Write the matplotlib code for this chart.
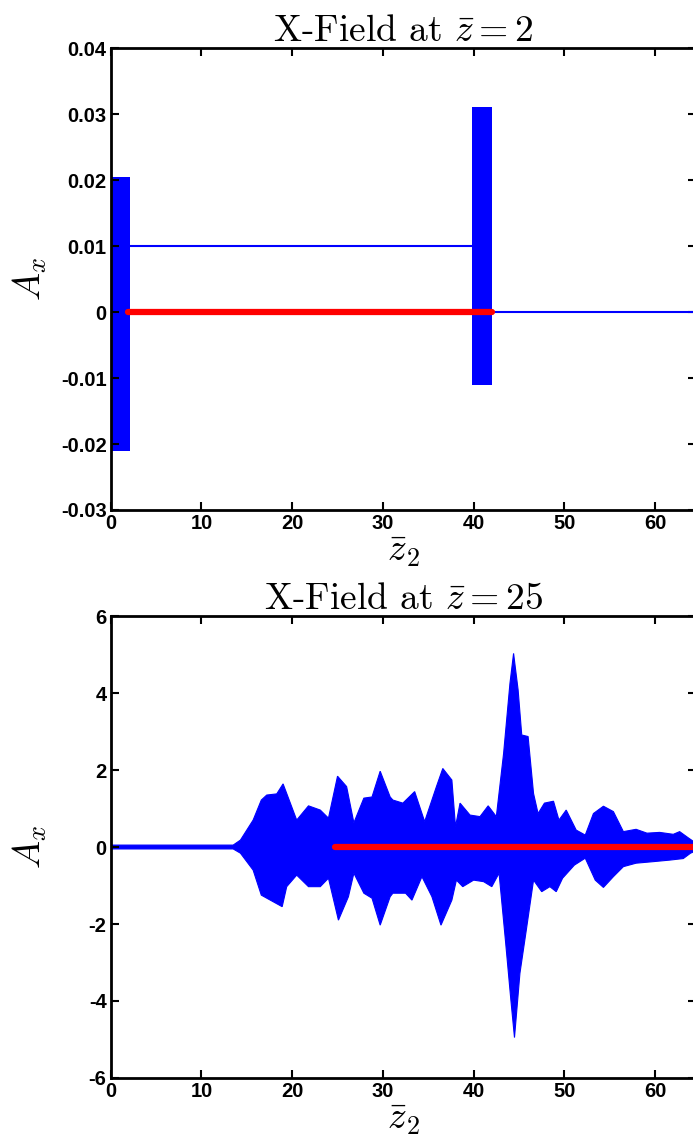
import matplotlib
matplotlib.use('Agg')
import matplotlib.pyplot as plt
import numpy as np

plt.rcParams['mathtext.fontset'] = 'cm'
plt.rcParams['axes.unicode_minus'] = False

# ---- upper panel (z = 2): short pulses and flat segments ----
top_block_z = [[0.1, 2.1], [39.8, 42.0]]
top_block_lo = [-0.021, -0.011]
top_block_hi = [0.0205, 0.031]
top_flat_z = [2.1, 39.8]
top_flat_a = [0.01, 0.01]
top_tail_z = [42.0, 64.5]
top_tail_a = [0.0, 0.0]
top_ref_z = [1.9, 42.0]
top_ref_a = [0.0, 0.0]

# ---- lower panel (z = 25): envelope of the fast oscillation ----
env_up_z = [0, 13.5, 14.3, 15.7, 16.6, 17.2, 18.3, 19.0, 19.8, 20.5,
            21.8, 23.1, 24.0, 25.0, 26.0, 26.8, 27.9, 28.8, 29.7, 30.8,
            31.1, 32.2, 33.5, 34.6, 35.9, 36.6, 37.6, 38.0, 38.5, 39.6,
            40.7, 41.6, 42.5, 43.3, 44.0, 44.4, 44.9, 45.3, 46.0, 46.6,
            47.1, 47.8, 48.8, 49.4, 50.2, 51.3, 52.3, 53.2, 54.3, 55.4,
            56.5, 57.9, 59.1, 60.5, 62.0, 62.7, 63.7, 64.5]
env_up_a = [0.05, 0.05, 0.18, 0.7, 1.22, 1.35, 1.38, 1.64, 1.14, 0.70,
            1.07, 0.96, 0.75, 1.84, 1.57, 0.63, 1.27, 1.30, 1.97, 1.30,
            1.22, 1.14, 1.44, 0.66, 1.57, 2.04, 1.74, 0.53, 1.14, 0.83,
            0.79, 1.07, 0.79, 2.43, 4.25, 5.03, 4.08, 2.91, 2.87, 1.39,
            0.87, 1.14, 1.19, 0.70, 0.96, 0.44, 0.31, 0.87, 1.06, 0.92,
            0.40, 0.46, 0.36, 0.38, 0.33, 0.40, 0.23, 0.1]
env_lo_z = [0, 13.5, 14.3, 15.7, 16.6, 17.9, 18.9, 19.4, 20.5, 21.8,
            23.1, 24.0, 25.1, 26.2, 26.8, 27.9, 28.8, 29.7, 30.8, 31.1,
            32.5, 33.2, 34.3, 35.4, 36.4, 37.6, 38.1, 38.8, 40.0, 41.1,
            42.0, 42.8, 43.5, 44.1, 44.5, 45.1, 45.8, 46.6, 47.5, 48.4,
            49.1, 49.8, 51.1, 52.3, 53.4, 54.3, 55.4, 56.5, 57.9, 59.8,
            61.6, 63.1, 63.9, 64.5]
env_lo_a = [-0.05, -0.05, -0.16, -0.6, -1.25, -1.42, -1.55, -1.03, -0.73, -1.03,
            -1.03, -0.81, -1.9, -1.29, -0.68, -1.2, -1.33, -2.03, -1.29, -1.2,
            -1.2, -1.38, -0.77, -1.29, -2.03, -1.38, -0.86, -1.03, -0.86, -0.9,
            -1.03, -0.68, -2.42, -3.97, -4.95, -3.28, -2.16, -0.86, -1.16, -1.03,
            -1.16, -0.81, -0.47, -0.29, -0.86, -1.05, -0.77, -0.51, -0.42, -0.38,
            -0.34, -0.3, -0.16, -0.1]
bot_ref_z = [24.7, 64.5]
bot_ref_a = [0.0, 0.0]

x_ticks = [0, 10, 20, 30, 40, 50, 60]
top_yticks = [-0.03, -0.02, -0.01, 0, 0.01, 0.02, 0.03, 0.04]
bot_yticks = [-6, -4, -2, 0, 2, 4, 6]
titles = [r'X-Field at $\bar{z} = 2$', r'X-Field at $\bar{z} = 25$']

fig = plt.figure(figsize=(6.93, 11.44), dpi=100)
ax1 = fig.add_axes([0.1597, 0.5542, 0.8446, 0.4038])
ax2 = fig.add_axes([0.1597, 0.0577, 0.8446, 0.4038])

# upper panel
for zz, lo, hi in zip(top_block_z, top_block_lo, top_block_hi):
    ax1.fill_between(zz, [lo, lo], [hi, hi], color='#0000ff', linewidth=0)
ax1.plot(top_flat_z, top_flat_a, color='#0000ff', linewidth=1.5)
ax1.plot(top_tail_z, top_tail_a, color='#0000ff', linewidth=1.5)
ax1.plot(top_ref_z, top_ref_a, color='#ff0000', linewidth=4.5, solid_capstyle='round')
ax1.set_ylim(-0.03, 0.04)
ax1.set_yticks(top_yticks)

# lower panel
poly_z = np.concatenate([env_up_z, env_lo_z[::-1]])
poly_a = np.concatenate([env_up_a, env_lo_a[::-1]])
ax2.fill(poly_z, poly_a, color='#0000ff', linewidth=0.8, edgecolor='#0000ff')
ax2.plot(bot_ref_z, bot_ref_a, color='#ff0000', linewidth=4.5, solid_capstyle='round')
ax2.set_ylim(-6, 6)
ax2.set_yticks(bot_yticks)

for ax, title in zip([ax1, ax2], titles):
    ax.set_xlim(0, 64.5)
    ax.set_xticks(x_ticks)
    ax.set_xticklabels([f'{v:g}' for v in ax.get_xticks()])
    ax.set_yticklabels([f'{v:g}' for v in ax.get_yticks()])
    for lab in ax.get_xticklabels() + ax.get_yticklabels():
        lab.set_fontweight('bold')
        lab.set_fontsize(14.5)
        lab.set_family('Liberation Sans')
    ax.tick_params(direction='in', length=6, width=1.5, top=True, right=True, pad=3)
    for sp in ax.spines.values():
        sp.set_linewidth(2)
    ax.set_title(title, fontsize=27, family='cmr10', pad=5)
    ax.set_xlabel(r'$\bar{z}_2$', fontsize=27, labelpad=0)
    ax.set_ylabel(r'$A_x$', fontsize=27)
    ax.yaxis.set_label_coords(-0.105, 0.5)

fig.savefig('out.png', dpi=100)
